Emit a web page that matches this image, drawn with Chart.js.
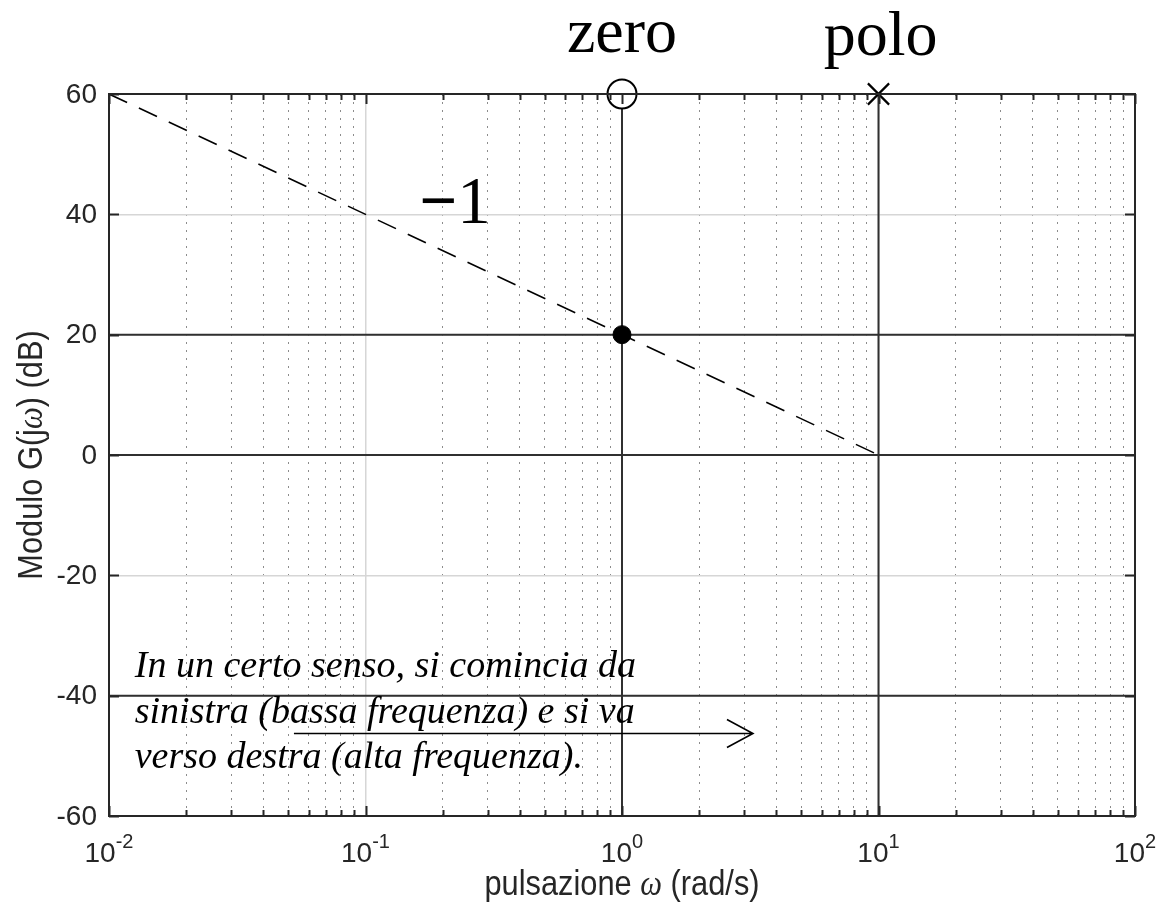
<!DOCTYPE html>
<html>
<head>
<meta charset="utf-8">
<title>Diagramma di Bode - modulo</title>
<script src="https://cdn.jsdelivr.net/npm/chart.js@4.4.1/dist/chart.umd.min.js"></script>
<style>
  body { margin: 0; background: #fff; }
  canvas { display: block; }
</style>
</head>
<body>
<canvas id="bode" width="1160" height="911"></canvas>
<script>
// asintoto con pendenza -1 (da 60 dB a 0 dB)
var asintotoOmega = [0.01, 10];
var asintotoDb = [60, 0];
// zero, polo e punto a 20 dB
var zeroOmega = [1], zeroDb = [60];
var poloOmega = [10], poloDb = [60];
var puntoOmega = [1], puntoDb = [20];
// rette di riferimento
var retteDb = [20, 0, -40];
var retteOmega = [1, 10];
// assi
var yTicks = [-60, -40, -20, 0, 20, 40, 60];
var decadi = [-2, -1, 0, 1, 2];
var omegaMin = 0.01, omegaMax = 100, dbMin = -60, dbMax = 60;

// tacche logaritmiche: 1..9 per ogni decade, piu' l'ultima
var xTicks = [];
decadi.forEach(function (d, i) {
    var maxM = i === decadi.length - 1 ? 1 : 9;
    for (var m = 1; m <= maxM; m++) {
        xTicks.push(Number((m * Math.pow(10, d)).toPrecision(3)));
    }
});

function isDecade(v) {
    var l = Math.log10(v);
    return Math.abs(l - Math.round(l)) < 1e-9;
}

function punti(xs, ys) {
    return xs.map(function (x, i) { return { x: x, y: ys[i] }; });
}

var SANS = '"Liberation Sans", Arial, sans-serif';
var SERIF = '"Liberation Serif", "Times New Roman", serif';
var INK = '#262626';

// testo con piu' font sulla stessa riga, centrato su (0,0)
function drawMixed(ctx, parts, sx) {
    var total = 0;
    parts.forEach(function (p) { ctx.font = p.font; p.w = ctx.measureText(p.text).width; total += p.w; });
    ctx.save();
    ctx.scale(sx, 1);
    var x = -total / 2;
    ctx.textAlign = 'left';
    ctx.textBaseline = 'alphabetic';
    parts.forEach(function (p) { ctx.font = p.font; ctx.fillText(p.text, x, 0); x += p.w; });
    ctx.restore();
}

var assi = {
    id: 'assi',
    afterDatasetsDraw: function (chart) {
        var ctx = chart.ctx, a = chart.chartArea;
        var xs = chart.scales.x, ys = chart.scales.y;
        ctx.save();
        ctx.strokeStyle = INK;
        ctx.lineWidth = 2;
        ctx.beginPath();
        xTicks.forEach(function (v) {
            var px = Math.round(xs.getPixelForValue(v)) + 0.5;
            var len = isDecade(v) ? 10 : 6;
            ctx.moveTo(px, a.bottom); ctx.lineTo(px, a.bottom - len);
            ctx.moveTo(px, a.top); ctx.lineTo(px, a.top + len);
        });
        yTicks.forEach(function (v) {
            var py = Math.round(ys.getPixelForValue(v)) + 0.5;
            ctx.moveTo(a.left, py); ctx.lineTo(a.left + 10, py);
            ctx.moveTo(a.right, py); ctx.lineTo(a.right - 10, py);
        });
        ctx.stroke();
        ctx.strokeRect(a.left, a.top, a.right - a.left, a.bottom - a.top);
        ctx.restore();
    },
    afterDraw: function (chart) {
        var ctx = chart.ctx, a = chart.chartArea;
        var xs = chart.scales.x, ys = chart.scales.y;
        ctx.save();
        ctx.fillStyle = INK;

        // etichette asse y
        ctx.font = '28px ' + SANS;
        ctx.textAlign = 'right';
        ctx.textBaseline = 'middle';
        yTicks.forEach(function (v) {
            ctx.fillText(String(v), a.left - 12, ys.getPixelForValue(v) + 1);
        });

        // etichette asse x: 10 con esponente
        ctx.textAlign = 'left';
        ctx.textBaseline = 'alphabetic';
        decadi.forEach(function (d) {
            var px = xs.getPixelForValue(Math.pow(10, d));
            var esp = d < 0 ? '-' + Math.abs(d) : String(d);
            ctx.font = '28px ' + SANS;
            var w1 = ctx.measureText('10').width;
            ctx.font = '20px ' + SANS;
            var w2 = ctx.measureText(esp).width;
            var x0 = px - (w1 + w2) / 2;
            ctx.font = '28px ' + SANS;
            ctx.fillText('10', x0, a.bottom + 46);
            ctx.font = '20px ' + SANS;
            ctx.fillText(esp, x0 + w1, a.bottom + 32);
        });

        // titoli degli assi
        var tit = '35px ' + SANS, om = 'italic 35px ' + SERIF;
        ctx.save();
        ctx.translate((a.left + a.right) / 2, 895);
        drawMixed(ctx, [
            { text: 'pulsazione ', font: tit },
            { text: '\u03c9', font: om },
            { text: ' (rad/s)', font: tit }
        ], 0.88);
        ctx.restore();

        ctx.save();
        ctx.translate(42, (a.top + a.bottom) / 2);
        ctx.rotate(-Math.PI / 2);
        drawMixed(ctx, [
            { text: 'Modulo G(j', font: tit },
            { text: '\u03c9', font: om },
            { text: ') (dB)', font: tit }
        ], 0.88);
        ctx.restore();

        // scritte sul grafico
        ctx.fillStyle = '#000';
        ctx.font = '64px ' + SERIF;
        ctx.textAlign = 'center';
        ctx.fillText('zero', xs.getPixelForValue(1), ys.getPixelForValue(67));
        ctx.fillText('polo', xs.getPixelForValue(10.2), ys.getPixelForValue(66.5));

        // pendenza -1: segno meno piu' spesso
        ctx.save();
        ctx.translate(xs.getPixelForValue(0.223), ys.getPixelForValue(38.6));
        drawMixed(ctx, [
            { text: '\u2212', font: 'bold 67px ' + SERIF },
            { text: '1', font: '67px ' + SERIF }
        ], 1);
        ctx.restore();

        ctx.font = 'italic 38px ' + SERIF;
        ctx.textAlign = 'left';
        var righe = [
            'In un certo senso, si comincia da',
            'sinistra (bassa frequenza) e si va',
            'verso destra (alta frequenza).'
        ];
        var xt = xs.getPixelForValue(0.0126), yt = ys.getPixelForValue(-36.9);
        righe.forEach(function (r, i) { ctx.fillText(r, xt, yt + i * 45.5); });

        // freccia verso le alte frequenze
        var x1 = xs.getPixelForValue(0.0526), x2 = xs.getPixelForValue(3.24);
        var yf = Math.round(ys.getPixelForValue(-46.2)) + 0.5;
        ctx.strokeStyle = '#000';
        ctx.lineWidth = 1.6;
        ctx.beginPath();
        ctx.moveTo(x1, yf); ctx.lineTo(x2, yf);
        ctx.moveTo(x2 - 26, yf - 14); ctx.lineTo(x2, yf); ctx.lineTo(x2 - 26, yf + 14);
        ctx.stroke();
        ctx.restore();
    }
};

var datasets = [
    {   // punto a 20 dB sulla pulsazione dello zero
        data: punti(puntoOmega, puntoDb),
        pointStyle: 'circle', pointRadius: 9,
        backgroundColor: '#000', borderColor: '#000', borderWidth: 1,
        clip: false
    },
    {   // zero
        data: punti(zeroOmega, zeroDb),
        pointStyle: 'circle', pointRadius: 14.5,
        backgroundColor: '#fff', borderColor: '#000', borderWidth: 2,
        clip: false
    },
    {   // polo
        data: punti(poloOmega, poloDb),
        pointStyle: 'crossRot', pointRadius: 15,
        borderColor: '#000', borderWidth: 2.2,
        clip: false
    },
    {   // asintoto tratteggiato
        data: punti(asintotoOmega, asintotoDb),
        showLine: true, pointRadius: 0,
        borderColor: '#000', borderWidth: 1.6, borderDash: [20, 13]
    }
];

retteDb.forEach(function (db) {
    datasets.push({
        data: punti([omegaMin, omegaMax], [db, db]),
        showLine: true, pointRadius: 0, borderColor: '#303030', borderWidth: 2
    });
});
retteOmega.forEach(function (w) {
    datasets.push({
        data: punti([w, w], [dbMin, dbMax]),
        showLine: true, pointRadius: 0, borderColor: '#303030', borderWidth: 2
    });
});

var ctx = document.getElementById('bode').getContext('2d');
var chart = new Chart(ctx, {
    type: 'scatter',
    data: { datasets: datasets },
    options: {
        responsive: false,
        animation: false,
        devicePixelRatio: 1,
        layout: { padding: { top: 94, right: 25, left: 0, bottom: 0 } },
        plugins: { legend: { display: false }, tooltip: { enabled: false } },
        scales: {
            x: {
                type: 'logarithmic', min: omegaMin, max: omegaMax,
                afterBuildTicks: function (s) { s.ticks = xTicks.map(function (v) { return { value: v }; }); },
                afterFit: function (s) { s.height = 95; },
                ticks: { display: false },
                grid: {
                    drawTicks: false,
                    color: function (c) { return c.tick && isDecade(c.tick.value) ? '#d6d6d6' : 'rgba(0,0,0,0.45)'; },
                    lineWidth: function (c) { return c.tick && isDecade(c.tick.value) ? 1.5 : 1; }
                },
                border: {
                    display: false,
                    dash: function (c) { return c.tick && isDecade(c.tick.value) ? [] : [2, 6]; }
                }
            },
            y: {
                min: dbMin, max: dbMax,
                afterBuildTicks: function (s) { s.ticks = yTicks.map(function (v) { return { value: v }; }); },
                afterFit: function (s) { s.width = 109; },
                ticks: { display: false },
                grid: { drawTicks: false, color: '#d6d6d6', lineWidth: 1.5 },
                border: { display: false }
            }
        }
    },
    plugins: [assi]
});
</script>
</body>
</html>
